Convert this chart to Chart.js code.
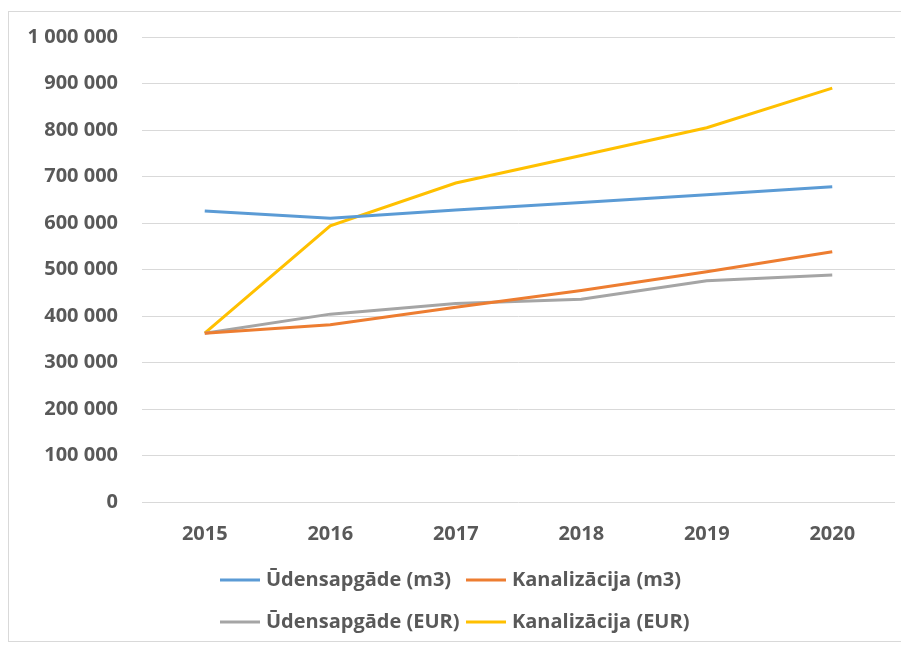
<!DOCTYPE html>
<html>
<head>
<meta charset="utf-8">
<script src="https://cdn.jsdelivr.net/npm/chart.js@4/dist/chart.umd.min.js"></script>
<style>
  html, body { margin: 0; padding: 0; background: #ffffff; overflow: hidden; }
  #frame { position: absolute; left: 8px; top: 11px; width: 920px; height: 631px; border: 1px solid #d9d9d9; box-sizing: border-box; }
  #wrap { position: absolute; left: 0; top: 0; width: 901px; height: 646px; }
</style>
</head>
<body>
<div id="frame"></div>
<div id="wrap"><canvas id="c" width="901" height="646"></canvas></div>
<script>
const categories = ['2015', '2016', '2017', '2018', '2019', '2020'];
const seriesNames = ['Ūdensapgāde (m3)', 'Kanalizācija (m3)', 'Ūdensapgāde (EUR)', 'Kanalizācija (EUR)'];
const udensM3 = [626000, 610000, 628000, 644000, 661000, 678000];
const kanalM3 = [363000, 381000, 419000, 455000, 495000, 538000];
const udensEUR = [363000, 404000, 427000, 436000, 476000, 488000];
const kanalEUR = [363000, 594000, 686000, 745000, 805000, 890000];
const yTicks = [0, 100000, 200000, 300000, 400000, 500000, 600000, 700000, 800000, 900000, 1000000];
const colors = ['#5b9bd5', '#ed7d31', '#a5a5a5', '#ffc000'];

const FONT = '"Open Sans", Lato, sans-serif';
const TXT = '#595959';

function fmt(v) {
  return String(v).replace(/\B(?=(\d{3})+(?!\d))/g, ' ');
}

const legendPlugin = {
  id: 'gridLegend',
  afterDraw(chart) {
    const ctx = chart.ctx;
    const cols = [220, 466];
    const rows = [580, 622];
    ctx.save();
    ctx.font = 'bold 20px ' + FONT;
    ctx.textBaseline = 'middle';
    ctx.textAlign = 'left';
    chart.data.datasets.forEach((ds, i) => {
      const x = cols[i % 2];
      const y = rows[Math.floor(i / 2)];
      ctx.strokeStyle = ds.borderColor;
      ctx.lineWidth = 3;
      ctx.beginPath();
      ctx.moveTo(x, y);
      ctx.lineTo(x + 40, y);
      ctx.stroke();
      ctx.fillStyle = TXT;
      ctx.fillText(ds.label, x + 46, y);
    });
    ctx.restore();
  }
};

const seriesData = [udensM3, kanalM3, udensEUR, kanalEUR];

new Chart(document.getElementById('c'), {
  type: 'line',
  data: {
    labels: categories,
    datasets: seriesNames.map((name, i) => ({
      label: name,
      data: seriesData[i],
      borderColor: colors[i],
      backgroundColor: colors[i],
      borderWidth: 3,
      pointRadius: 0,
      tension: 0,
      fill: false
    }))
  },
  options: {
    responsive: false,
    animation: false,
    layout: { padding: { left: 10, right: 6, top: 37, bottom: 84 } },
    plugins: {
      legend: { display: false },
      tooltip: { enabled: false }
    },
    scales: {
      x: {
        offset: true,
        grid: { display: false, drawTicks: false },
        border: { display: false },
        ticks: { color: TXT, font: { family: FONT, size: 20, weight: 'bold' }, padding: 20, maxRotation: 0 },
        afterFit(scale) { scale.height = 60; }
      },
      y: {
        min: 0,
        max: 1000000,
        afterBuildTicks(scale) { scale.ticks = yTicks.map(v => ({ value: v })); },
        grid: { color: '#d9d9d9', lineWidth: 1, drawTicks: false },
        border: { display: false },
        ticks: {
          color: TXT,
          font: { family: FONT, size: 20, weight: 'bold' },
          padding: 24,
          callback: (v) => fmt(v)
        },
        afterFit(scale) { scale.width = 132; }
      }
    }
  },
  plugins: [legendPlugin]
});
</script>
</body>
</html>
